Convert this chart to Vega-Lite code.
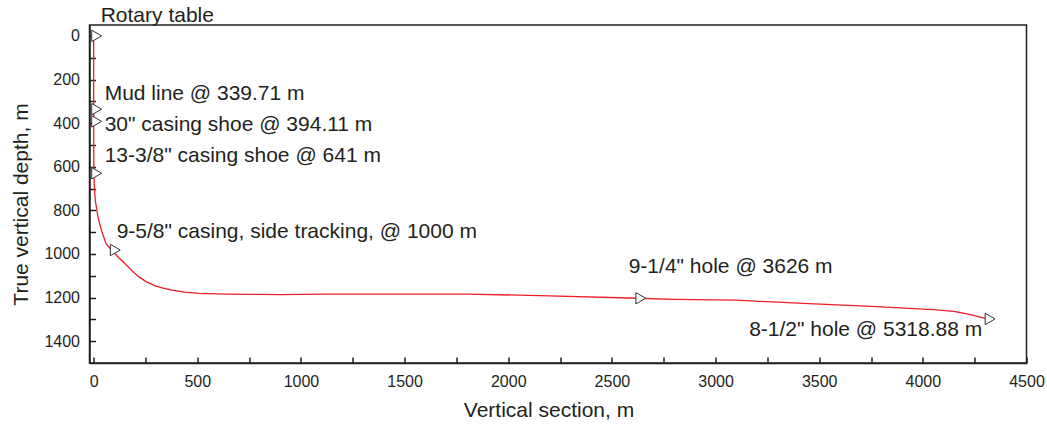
{
  "$schema": "https://vega.github.io/schema/vega-lite/v6.json",
  "autosize": "none",
  "padding": {"left": 89.5, "top": 25, "right": 20.5, "bottom": 63},
  "width": 937,
  "height": 338,
  "background": "white",
  "config": {
    "font": "Liberation Sans",
    "view": {"stroke": "#231f20", "strokeWidth": 1.5},
    "axis": {
      "grid": false,
      "domainColor": "#231f20",
      "domainWidth": 1.5,
      "tickColor": "#231f20",
      "tickWidth": 1.5,
      "labelColor": "#231f20",
      "labelFont": "Liberation Sans",
      "labelFontSize": 16,
      "titleColor": "#231f20",
      "titleFont": "Liberation Sans",
      "titleFontWeight": "normal"
    }
  },
  "datasets": {
    "trajectory": [
      {"seq": 1, "vs": 0, "tvd": 0},
      {"seq": 2, "vs": 0, "tvd": 200},
      {"seq": 3, "vs": 0, "tvd": 400},
      {"seq": 4, "vs": 1, "tvd": 600},
      {"seq": 5, "vs": 3, "tvd": 680},
      {"seq": 6, "vs": 8, "tvd": 754},
      {"seq": 7, "vs": 21, "tvd": 831},
      {"seq": 8, "vs": 32, "tvd": 872},
      {"seq": 9, "vs": 43, "tvd": 907},
      {"seq": 10, "vs": 60, "tvd": 953},
      {"seq": 11, "vs": 88, "tvd": 984},
      {"seq": 12, "vs": 120, "tvd": 1016},
      {"seq": 13, "vs": 153, "tvd": 1046},
      {"seq": 14, "vs": 185, "tvd": 1077},
      {"seq": 15, "vs": 218, "tvd": 1105},
      {"seq": 16, "vs": 255, "tvd": 1128},
      {"seq": 17, "vs": 297, "tvd": 1146},
      {"seq": 18, "vs": 335, "tvd": 1157},
      {"seq": 19, "vs": 378, "tvd": 1166},
      {"seq": 20, "vs": 440, "tvd": 1175},
      {"seq": 21, "vs": 507, "tvd": 1181},
      {"seq": 22, "vs": 635, "tvd": 1184},
      {"seq": 23, "vs": 800, "tvd": 1185},
      {"seq": 24, "vs": 900, "tvd": 1186},
      {"seq": 25, "vs": 1100, "tvd": 1184},
      {"seq": 26, "vs": 1500, "tvd": 1184},
      {"seq": 27, "vs": 1800, "tvd": 1184},
      {"seq": 28, "vs": 2200, "tvd": 1192},
      {"seq": 29, "vs": 2625, "tvd": 1203},
      {"seq": 30, "vs": 2800, "tvd": 1208},
      {"seq": 31, "vs": 3100, "tvd": 1212},
      {"seq": 32, "vs": 3450, "tvd": 1228},
      {"seq": 33, "vs": 3750, "tvd": 1240},
      {"seq": 34, "vs": 4050, "tvd": 1255},
      {"seq": 35, "vs": 4150, "tvd": 1263},
      {"seq": 36, "vs": 4230, "tvd": 1278},
      {"seq": 37, "vs": 4310, "tvd": 1298}
    ],
    "markers": [
      {"vs": 0, "tvd": 0},
      {"vs": 0, "tvd": 336},
      {"vs": 0, "tvd": 392},
      {"vs": 0, "tvd": 630},
      {"vs": 90, "tvd": 982},
      {"vs": 2625, "tvd": 1203},
      {"vs": 4310, "tvd": 1298}
    ],
    "labels": [
      {"vs": 34, "tvd": -92, "label": "Rotary table"},
      {"vs": 53, "tvd": 265, "label": "Mud line @ 339.71 m"},
      {"vs": 53, "tvd": 407, "label": "30\" casing shoe @ 394.11 m"},
      {"vs": 53, "tvd": 553, "label": "13-3/8\" casing shoe @ 641 m"},
      {"vs": 111, "tvd": 901, "label": "9-5/8\" casing, side tracking, @ 1000 m"},
      {"vs": 2581, "tvd": 1061, "label": "9-1/4\" hole @ 3626 m"},
      {"vs": 3162, "tvd": 1349, "label": "8-1/2\" hole @ 5318.88 m"}
    ]
  },
  "encoding": {
    "x": {
      "field": "vs",
      "type": "quantitative",
      "scale": {"domain": [-20, 4500], "nice": false, "zero": false},
      "axis": {
        "title": "Vertical section, m",
        "titleFontSize": 21,
        "titlePadding": 10,
        "titleX": 459,
        "values": [0, 250, 500, 750, 1000, 1250, 1500, 1750, 2000, 2250, 2500, 2750, 3000, 3250, 3500, 3750, 4000, 4250, 4500],
        "labelExpr": "datum.value % 500 === 0 ? datum.label : ''",
        "format": "d",
        "tickSize": -6,
        "labelPadding": 16,
        "labelFlush": false,
        "labelOverlap": false
      }
    },
    "y": {
      "field": "tvd",
      "type": "quantitative",
      "scale": {"domain": [-50, 1500], "nice": false, "zero": false, "reverse": true},
      "axis": {
        "title": "True vertical depth, m",
        "titleFontSize": 21,
        "titlePadding": 12,
        "titleY": 179,
        "values": [0, 100, 200, 300, 400, 500, 600, 700, 800, 900, 1000, 1100, 1200, 1300, 1400],
        "labelExpr": "datum.value % 200 === 0 ? datum.label : ''",
        "format": "d",
        "tickSize": -6,
        "labelPadding": 16,
        "labelFlush": false,
        "labelOverlap": false
      }
    }
  },
  "layer": [
    {
      "data": {"name": "trajectory"},
      "mark": {"type": "line", "color": "#ee1c25", "strokeWidth": 1.3, "clip": true},
      "encoding": {"order": {"field": "seq", "type": "quantitative"}}
    },
    {
      "data": {"name": "markers"},
      "mark": {"type": "point", "shape": "triangle-right", "size": 130, "filled": true, "fill": "white", "stroke": "#333333", "strokeWidth": 1, "opacity": 1, "xOffset": 3}
    },
    {
      "data": {"name": "labels"},
      "mark": {"type": "text", "align": "left", "baseline": "middle", "fontSize": 21, "font": "Liberation Sans", "color": "#231f20"},
      "encoding": {"text": {"field": "label", "type": "nominal"}}
    }
  ]
}
